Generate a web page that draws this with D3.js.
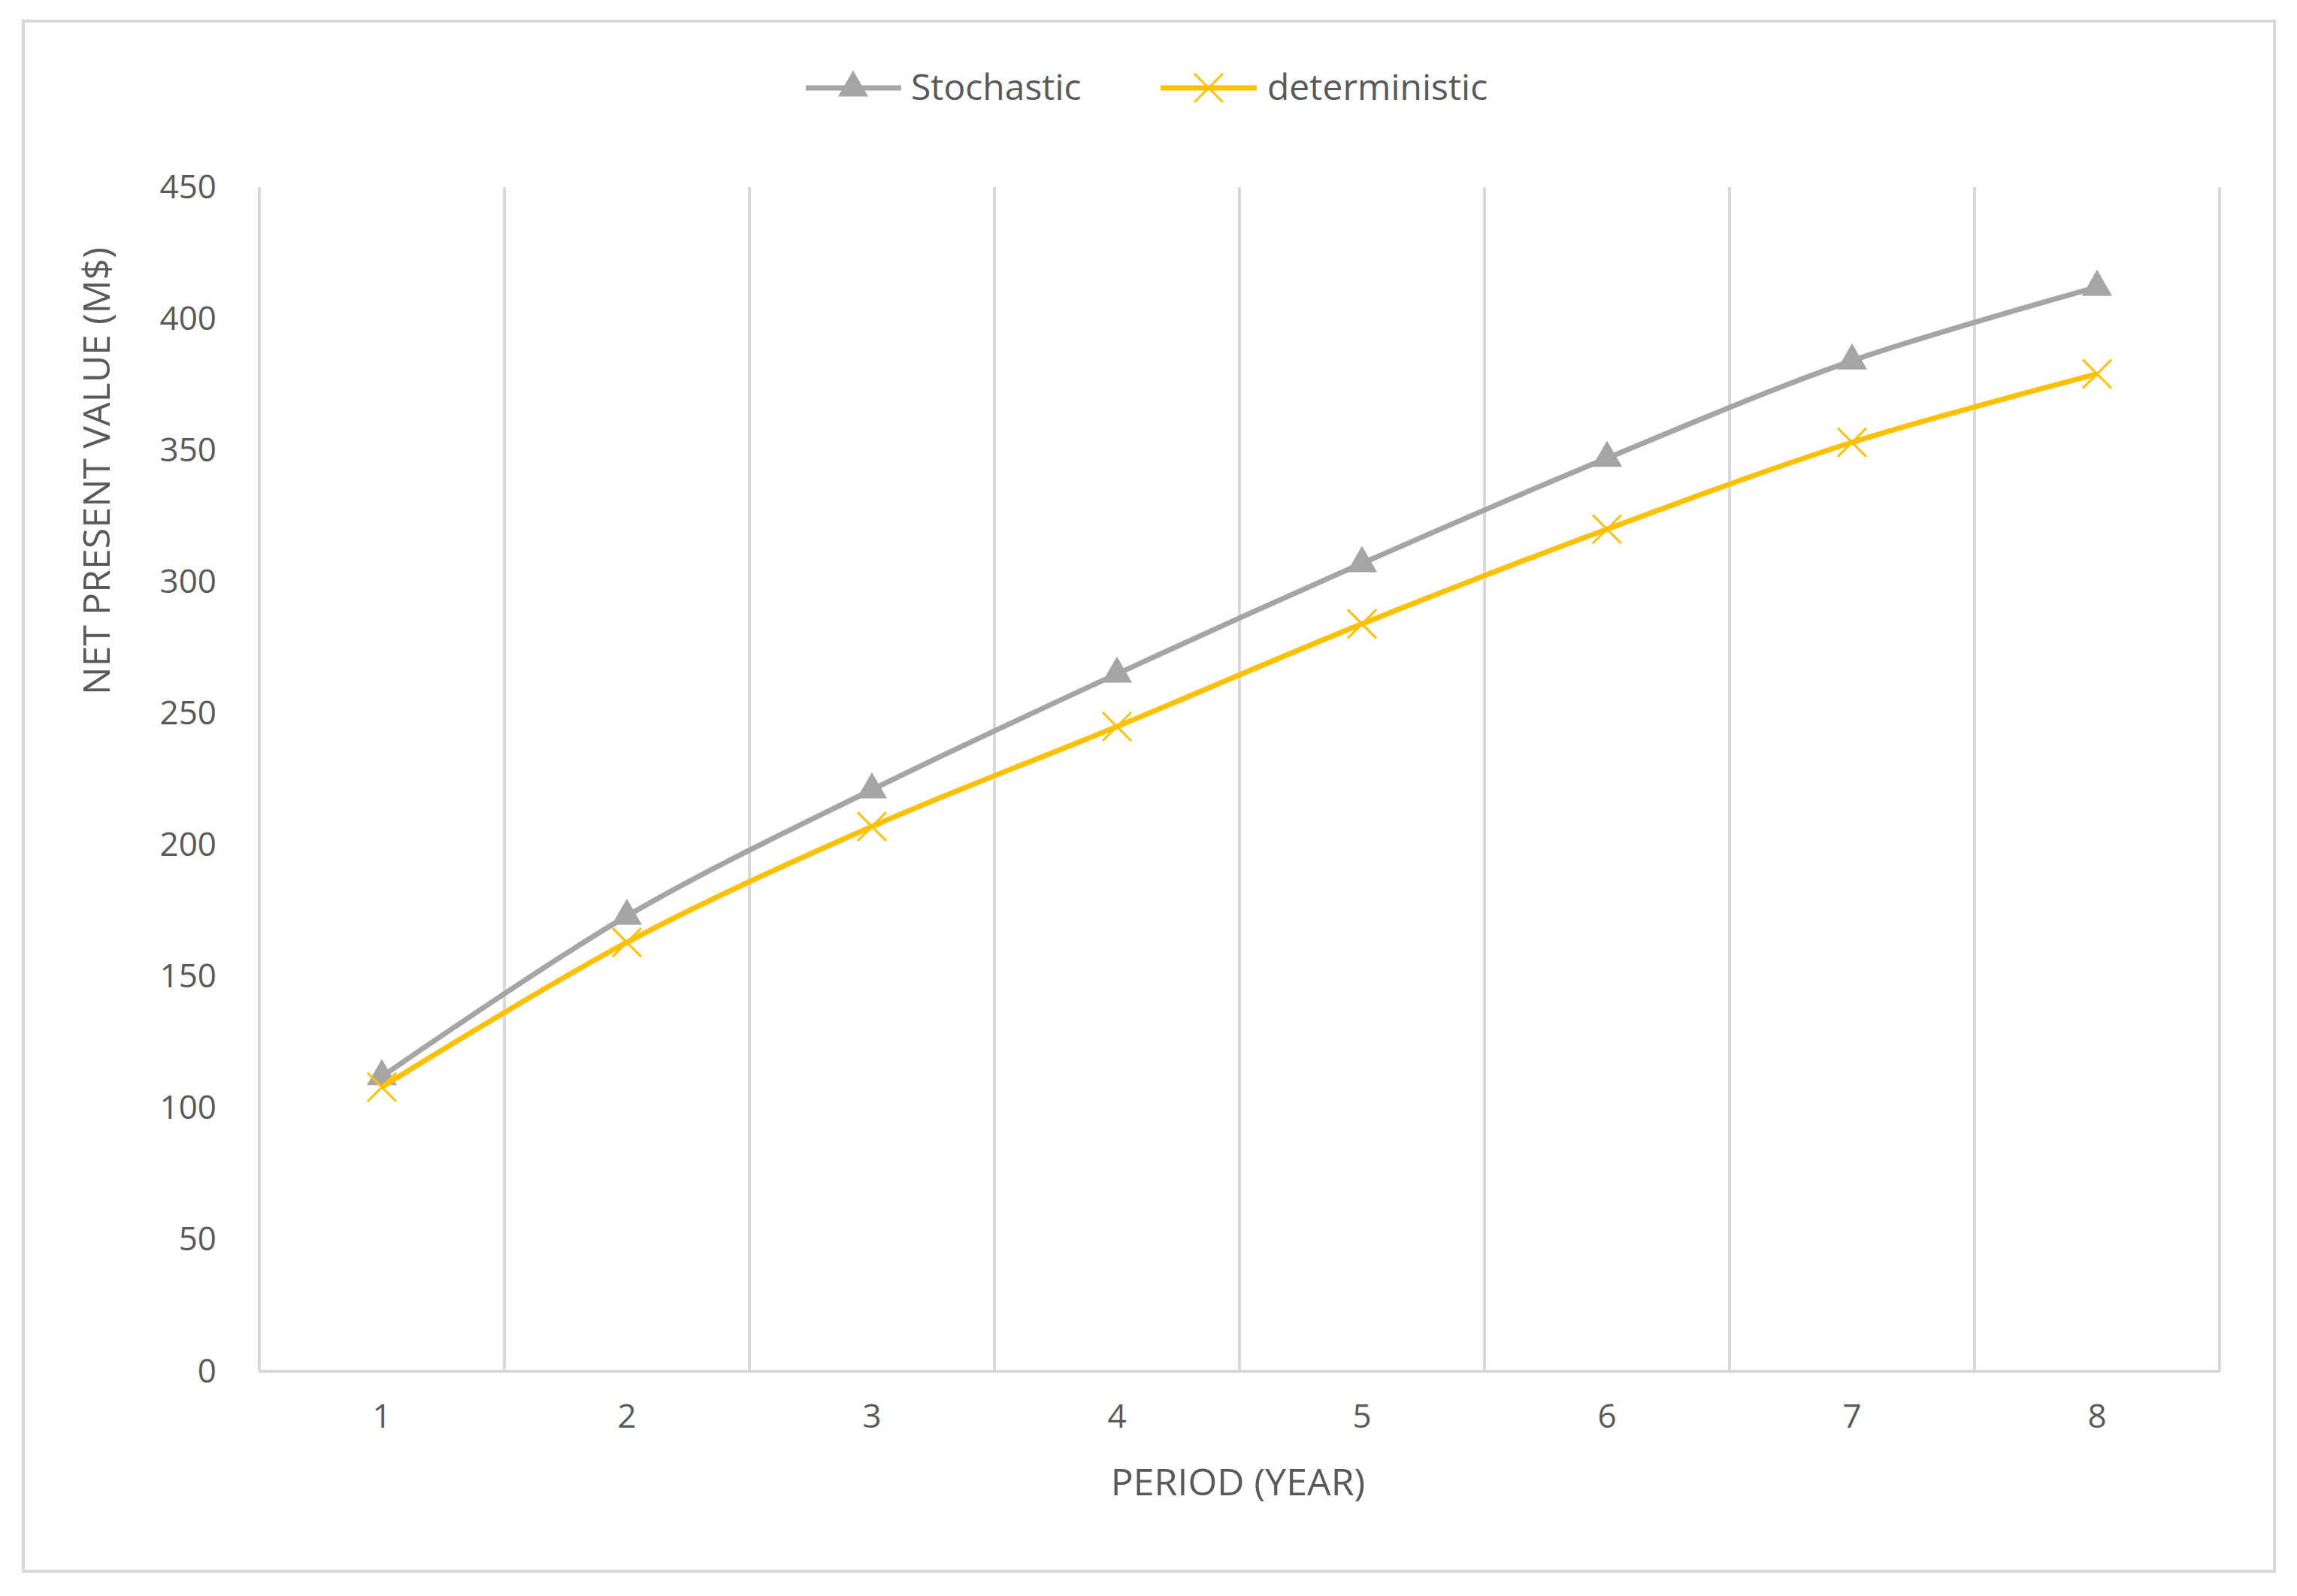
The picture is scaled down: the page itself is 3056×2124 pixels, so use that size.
<!DOCTYPE html>
<html>
<head>
<meta charset="utf-8">
<script src="https://cdn.jsdelivr.net/npm/d3@7"></script>
<style>
  body { margin: 0; background: #fff; }
  text { font-family: "Open Sans", "DejaVu Sans", sans-serif; fill: #595959; }
</style>
</head>
<body>
<svg id="chart" width="3056" height="2124"></svg>
<script>
var periods = [1, 2, 3, 4, 5, 6, 7, 8];
var stochastic = [112, 173, 221, 265, 307, 347, 384, 412];
var deterministic = [108, 163, 207, 245, 284, 320, 353, 379];
var yTicks = [0, 50, 100, 150, 200, 250, 300, 350, 400, 450];

var svg = d3.select('#chart');
var plotLeft = 345, plotRight = 2953, plotTop = 249, plotBottom = 1825;

svg.append('rect').attr('x', 31).attr('y', 28).attr('width', 2995).attr('height', 2063)
  .attr('fill', 'none').attr('stroke', '#d9d9d9').attr('stroke-width', 4);

var x = d3.scaleBand().domain(periods).range([plotLeft, plotRight]);
var y = d3.scaleLinear().domain([0, 450]).range([plotBottom, plotTop]);

// vertical gridlines at band edges
var edges = periods.map(function(p) { return x(p); }).concat([plotRight]);
svg.selectAll('.grid').data(edges).enter().append('line')
  .attr('x1', function(d) { return d; }).attr('x2', function(d) { return d; })
  .attr('y1', plotTop).attr('y2', plotBottom)
  .attr('stroke', '#d9d9d9').attr('stroke-width', 4);
svg.append('line').attr('x1', plotLeft).attr('x2', plotRight).attr('y1', plotBottom).attr('y2', plotBottom)
  .attr('stroke', '#d9d9d9').attr('stroke-width', 4);

var yAxis = svg.append('g').attr('transform', 'translate(' + (plotLeft - 57) + ',0)')
  .call(d3.axisLeft(y).tickValues(yTicks).tickSize(0).tickPadding(0));
yAxis.select('.domain').remove();
yAxis.selectAll('text').style('font-size', '44px').style('font-family', '"Open Sans", sans-serif').attr('fill', '#595959');

var xAxis = svg.append('g').attr('transform', 'translate(0,' + (plotBottom + 44) + ')')
  .call(d3.axisBottom(x).tickSize(0).tickPadding(0));
xAxis.select('.domain').remove();
xAxis.selectAll('text').style('font-size', '44px').style('font-family', '"Open Sans", sans-serif').attr('fill', '#595959');

svg.append('text').attr('x', 1647).attr('y', 1990).attr('text-anchor', 'middle')
  .style('font-size', '50px').text('PERIOD (YEAR)');
svg.append('text').attr('transform', 'translate(146,627) rotate(-90)').attr('text-anchor', 'middle')
  .style('font-size', '50px').text('NET PRESENT VALUE (M$)');

var cx = function(d, i) { return x(periods[i]) + x.bandwidth() / 2; };
var line = d3.line().x(cx).y(function(d) { return y(d); }).curve(d3.curveCatmullRom.alpha(0.5));

var tri = d3.symbol().type(d3.symbolTriangle).size(700);
var cross = function(g, px, py) {
  var s = 19;
  g.append('path').attr('d', 'M' + (px - s) + ',' + (py - s) + 'L' + (px + s) + ',' + (py + s) +
    'M' + (px - s) + ',' + (py + s) + 'L' + (px + s) + ',' + (py - s))
    .attr('stroke', '#ffc000').attr('stroke-width', 3).attr('fill', 'none');
};

svg.append('path').datum(stochastic).attr('d', line)
  .attr('fill', 'none').attr('stroke', '#a5a5a5').attr('stroke-width', 7);
svg.selectAll('.tri').data(stochastic).enter().append('path')
  .attr('d', tri).attr('fill', '#a5a5a5')
  .attr('transform', function(d, i) { return 'translate(' + cx(d, i) + ',' + y(d) + ')'; });

svg.append('path').datum(deterministic).attr('d', line)
  .attr('fill', 'none').attr('stroke', '#ffc000').attr('stroke-width', 7);
var crosses = svg.append('g');
deterministic.forEach(function(d, i) { cross(crosses, cx(d, i), y(d)); });

// legend
var ly = 117;
svg.append('line').attr('x1', 1072).attr('x2', 1199).attr('y1', ly).attr('y2', ly)
  .attr('stroke', '#a5a5a5').attr('stroke-width', 7);
svg.append('path').attr('d', tri).attr('fill', '#a5a5a5').attr('transform', 'translate(1135,' + ly + ')');
svg.append('text').attr('x', 1212).attr('y', ly + 16).style('font-size', '48px').text('Stochastic');
svg.append('line').attr('x1', 1544).attr('x2', 1672).attr('y1', ly).attr('y2', ly)
  .attr('stroke', '#ffc000').attr('stroke-width', 7);
cross(svg, 1608, ly);
svg.append('text').attr('x', 1686).attr('y', ly + 16).style('font-size', '48px').text('deterministic');
</script>
</body>
</html>
